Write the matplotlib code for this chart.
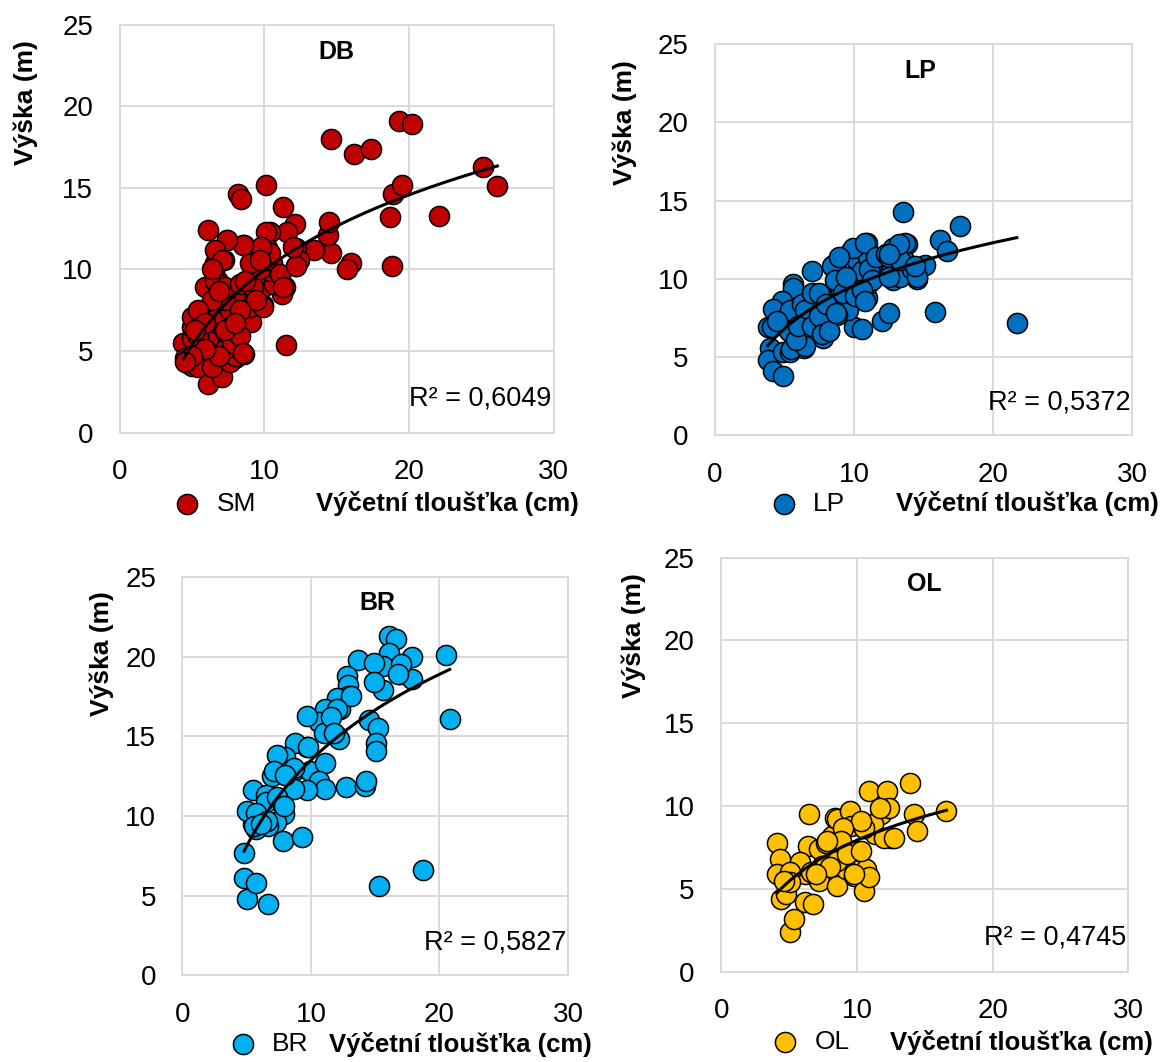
import numpy as np
import matplotlib
matplotlib.use('Agg')
import matplotlib.pyplot as plt

plt.rcParams['font.family'] = ['Liberation Sans Narrow', 'Liberation Sans', 'DejaVu Sans']

# ---------------- data ----------------
db_x = [4.4, 6.1, 7.1, 6.1, 7.4, 8.6, 8.2, 8.4, 10.1, 11.3, 12.1, 11.6, 10.4, 11.5,
        14.6, 16.2, 17.4, 19.3, 20.2, 25.1, 26.1, 22.1, 18.7, 18.9, 19.5, 18.8, 16.0,
        15.7, 14.6, 14.4, 14.5, 13.4, 12.2, 12.2, 12.4, 11.4, 11.2, 11.1, 10.5, 10.2,
        9.9, 9.4, 9.9, 9.9, 9.1, 8.4, 8.2, 8.6, 8.6, 8.0, 7.5, 6.8, 5.8, 5.6, 4.8, 4.5,
        5.0, 6.1, 5.9, 5.6, 5.3, 5.0, 5.9, 6.5, 6.6, 6.8, 7.2, 6.8, 7.1, 7.6, 7.9, 7.1,
        6.6, 7.6, 8.1, 6.3, 8.4, 9.1, 9.4, 10.7, 10.4, 9.1, 6.1, 7.3,
        4.7, 5.4, 6.4, 7.6, 8.0, 7.3, 7.8, 8.3, 5.4, 5.0, 5.0, 5.7, 6.9, 7.6, 8.3, 9.0,
        8.0, 7.3, 6.4, 6.6, 7.3, 8.3, 9.2, 9.7, 9.0, 10.1, 10.4, 9.7, 11.1, 11.3, 12.2,
        12.0, 10.1, 9.8, 8.5, 7.4, 6.6, 7.1, 6.4, 9.9, 9.4, 5.4, 5.9, 5.2, 7.3, 8.3, 8.0,
        6.9, 8.7, 9.7, 6.9, 5.9, 5.0, 4.5, 8.5]
db_y = [5.5, 3.0, 3.4, 12.4, 11.8, 11.5, 14.6, 14.3, 15.2, 13.8, 12.8, 12.3, 12.3, 5.4,
        18.0, 17.1, 17.4, 19.1, 18.9, 16.3, 15.1, 13.3, 13.2, 14.6, 15.2, 10.2, 10.4,
        10.0, 11.0, 12.1, 12.9, 11.2, 11.3, 10.2, 10.6, 8.9, 8.5, 9.5, 10.4, 11.3,
        10.9, 10.4, 7.8, 8.9, 9.5, 8.9, 7.7, 7.0, 4.8, 4.6, 6.3, 4.8, 5.0, 4.4, 4.2, 4.6,
        4.1, 7.4, 6.4, 6.6, 7.0, 5.8, 8.9, 9.9, 10.4, 11.2, 10.6, 9.3, 8.3, 7.9, 6.8, 5.8,
        5.2, 5.4, 5.8, 7.9, 8.3, 8.5, 9.6, 9.1, 9.9, 6.8, 5.6, 7.0,
        4.5, 4.0, 4.0, 4.3, 4.7, 5.1, 5.5, 5.9, 5.9, 6.5, 7.1, 7.1, 7.3, 7.5, 7.9, 7.7,
        8.3, 8.1, 8.1, 9.3, 8.9, 9.1, 8.9, 10.0, 10.4, 10.6, 11.0, 11.2, 9.7, 8.9, 10.2,
        11.4, 12.3, 11.4, 11.5, 11.8, 11.2, 10.6, 10.0, 7.7, 8.1, 7.5, 6.7, 6.3, 6.3, 7.5, 6.7,
        8.7, 9.3, 10.6, 4.7, 5.1, 4.7, 4.3, 4.9]

lp_x = [13.5, 17.6, 16.2, 16.7, 21.7, 15.8, 13.8, 15.1, 14.5, 13.3, 12.4, 13.0, 10.9,
        9.8, 10.1, 12.0, 12.5, 10.0, 10.6, 7.0, 8.5, 8.7, 5.6, 5.6, 4.8, 4.2, 4.5, 3.8,
        4.0, 3.8, 4.2, 4.9, 4.9, 5.4, 6.4, 7.8, 8.2, 7.4, 7.3, 6.6, 6.4, 5.3, 5.4, 8.0,
        8.6, 7.6, 9.2, 9.6, 8.8, 10.1, 10.9, 11.0, 10.6, 11.4, 9.3, 9.6, 11.7, 12.5, 13.1,
        12.8, 13.6, 11.0,
        5.5, 6.5, 5.8, 4.1, 4.5, 6.3, 6.5, 6.0, 7.0, 7.5, 7.7, 8.2, 7.0, 7.5, 8.0, 8.7,
        8.4, 8.6, 9.2, 9.4, 10.1, 9.9, 10.8, 11.1, 11.3, 10.6, 10.8, 11.6, 12.3, 12.5,
        13.7, 13.3, 12.5, 14.2, 14.5, 13.3, 8.9, 12.8, 13.2, 12.5, 14.4]
lp_y = [14.3, 13.4, 12.5, 11.8, 7.2, 7.9, 12.2, 10.9, 10.0, 10.2, 11.4, 11.9, 12.3,
        11.8, 11.3, 7.3, 7.8, 6.9, 6.8, 10.5, 10.9, 10.7, 9.7, 9.4, 8.6, 8.1, 7.2, 6.9,
        5.6, 4.8, 4.1, 3.8, 5.3, 5.3, 5.6, 6.2, 6.7, 7.1, 7.6, 8.2, 7.1, 6.7, 8.0, 8.3,
        9.6, 9.0, 8.9, 8.0, 7.7, 9.0, 8.8, 9.7, 10.5, 10.4, 10.1, 9.6, 11.0, 10.3, 10.8,
        9.9, 11.2, 11.4,
        5.5, 5.7, 6.1, 6.9, 7.3, 8.4, 8.0, 7.0, 7.0, 7.6, 6.5, 6.7, 9.1, 9.1, 8.4, 7.8,
        10.8, 9.9, 9.1, 10.1, 8.9, 12.0, 12.3, 10.6, 9.9, 9.3, 8.6, 11.4, 11.6, 11.4,
        12.3, 10.1, 10.1, 10.6, 10.1, 11.2, 11.4, 12.0, 12.2, 11.6, 10.8]

br_x = [4.8, 4.8, 5.0, 5.7, 6.7, 15.3, 18.7, 20.8, 20.5, 17.9, 16.1, 16.6, 16.1, 13.7,
        15.6, 14.9, 16.9, 17.9, 15.6, 14.9, 12.8, 12.9, 12.9, 12.0, 12.3, 11.1, 10.6,
        11.0, 12.0, 9.7, 9.7, 8.8, 8.0, 7.4, 7.0, 8.0, 8.8, 9.9, 11.1, 10.6, 11.1, 9.7,
        8.7, 12.7, 14.2, 14.3, 14.5, 15.2, 15.1, 15.1, 5.5, 6.5, 6.5, 7.8, 7.9, 7.3, 6.7,
        5.7, 5.5, 5.0, 5.7, 7.8, 9.3,
        17.0, 16.8, 13.1, 12.0, 11.6, 12.2, 11.8, 8.7, 9.8, 7.1, 8.0, 7.4, 7.9, 6.6, 5.6,
        6.1]
br_y = [7.7, 6.1, 4.8, 5.8, 4.5, 5.6, 6.6, 16.1, 20.1, 20.0, 21.3, 21.1, 20.2, 19.8,
        19.4, 19.6, 18.9, 18.6, 17.9, 18.4, 18.8, 18.2, 17.5, 17.4, 16.7, 16.7, 15.9,
        15.2, 15.0, 16.3, 14.3, 14.6, 13.7, 13.8, 12.5, 12.6, 12.9, 12.8, 13.3, 12.2,
        11.7, 11.6, 11.7, 11.8, 11.9, 12.2, 16.0, 15.5, 14.6, 14.1, 11.6, 11.3, 10.9,
        10.7, 10.1, 9.6, 9.4, 9.2, 9.5, 10.3, 10.2, 8.4, 8.7,
        19.5, 18.9, 17.5, 16.7, 16.2, 14.8, 15.2, 13.0, 14.3, 12.8, 12.6, 11.2, 10.6,
        9.7, 9.4, 9.5]

ol_x = [4.1, 4.3, 4.1, 4.4, 4.8, 5.1, 5.4, 6.2, 6.8, 6.5, 6.4, 7.2, 7.4, 7.2, 6.2, 5.8,
        5.1, 5.1, 8.5, 7.7, 8.2, 8.4, 8.5, 9.5, 9.6, 9.8, 9.2, 9.8, 10.5, 10.7, 10.9, 10.5,
        10.9, 12.2, 11.8, 12.4, 12.5, 11.3, 13.9, 14.2, 14.4, 16.6, 8.8, 6.6,
        4.6, 11.2, 10.5, 10.3, 9.0, 9.5, 8.8, 7.8, 8.5, 9.3, 10.3, 8.0, 7.0, 9.8, 11.7,
        12.0, 12.7]
ol_y = [7.8, 6.8, 5.9, 4.4, 4.7, 2.4, 3.2, 4.2, 4.1, 9.5, 7.6, 7.4, 6.4, 5.5, 5.9, 6.6,
        6.0, 5.4, 5.2, 7.8, 8.2, 9.3, 9.2, 9.7, 8.8, 7.3, 6.2, 5.8, 4.9, 6.2, 5.7, 8.7,
        10.9, 10.9, 9.5, 9.9, 8.1, 8.3, 11.4, 9.5, 8.5, 9.7, 7.0, 6.0,
        5.5, 8.9, 8.7, 9.1, 8.7, 7.3, 7.9, 7.9, 6.7, 7.1, 7.3, 6.3, 5.9, 5.9, 9.9,
        8.1, 8.1]

species = ['SM', 'LP', 'BR', 'OL']
titles = ['DB', 'LP', 'BR', 'OL']
r2_labels = ['R² = 0,6049', 'R² = 0,5372', 'R² = 0,5827', 'R² = 0,4745']
xs = [db_x, lp_x, br_x, ol_x]
ys = [db_y, lp_y, br_y, ol_y]
colors = ['#C00000', '#0070C0', '#00B0F0', '#FFC000']

# ---------------- layout ----------------
rects = [[0.1027, 0.5926, 0.3731, 0.3842],
         [0.6141, 0.5900, 0.3587, 0.3686],
         [0.1567, 0.0815, 0.3312, 0.3754],
         [0.6196, 0.0849, 0.3497, 0.3901]]
title_pos = [(0.50, 0.933), (0.493, 0.931), (0.506, 0.934), (0.50, 0.935)]
ylab_pos = [(-0.215, 0.81), (-0.216, 0.80), (-0.209, 0.807), (-0.216, 0.812)]
xlab_pos = [(0.756, -0.174), (0.748, -0.174), (0.722, -0.172), (0.737, -0.170)]
leg_pos = [(0.126, -0.174), (0.133, -0.174), (0.122, -0.172), (0.125, -0.170)]

grid_c = '#d9d9d9'

fig = plt.figure(figsize=(11.64, 10.62), dpi=100)

for i in range(4):
    ax = fig.add_axes(rects[i])
    x = np.array(xs[i])
    y = np.array(ys[i])
    ax.scatter(x, y, s=210, c=colors[i], edgecolors='black', linewidths=1.1,
               zorder=3, label=species[i])

    # logaritmicky trend  y = a*ln(x) + b
    a, b = np.polyfit(np.log(x), y, 1)
    xt = np.linspace(x.min(), x.max(), 200)
    ax.plot(xt, a * np.log(xt) + b, color='black', lw=2.2, zorder=4)

    ax.set_xlim(0, 30)
    ax.set_ylim(0, 25)
    ax.set_xticks([0, 10, 20, 30])
    ax.set_yticks([0, 5, 10, 15, 20, 25])
    ax.grid(True, color=grid_c, lw=1.4, zorder=0)
    ax.set_axisbelow(True)
    for sp in ax.spines.values():
        sp.set_color(grid_c)
        sp.set_linewidth(1.4)
    ax.tick_params(length=0, labelsize=20, pad=19)

    ax.text(title_pos[i][0], title_pos[i][1], titles[i], transform=ax.transAxes,
            ha='center', va='center', fontsize=18, fontweight='bold')
    ax.text(0.995, 0.083, r2_labels[i], transform=ax.transAxes,
            ha='right', va='center', fontsize=19.5)

    ax.set_ylabel('Výška (m)', fontsize=19, fontweight='bold')
    ax.yaxis.label.set(va='center', ha='center')
    ax.yaxis.set_label_coords(*ylab_pos[i])
    ax.set_xlabel('Výčetní tloušťka (cm)', fontsize=18.5, fontweight='bold')
    ax.xaxis.label.set(va='center', ha='center')
    ax.xaxis.set_label_coords(*xlab_pos[i])

    ax.legend(loc='center left', bbox_to_anchor=leg_pos[i], frameon=False,
              fontsize=19, handlelength=1.0, handletextpad=0.6,
              borderpad=0, borderaxespad=0)

fig.savefig('out.png', dpi=100)
